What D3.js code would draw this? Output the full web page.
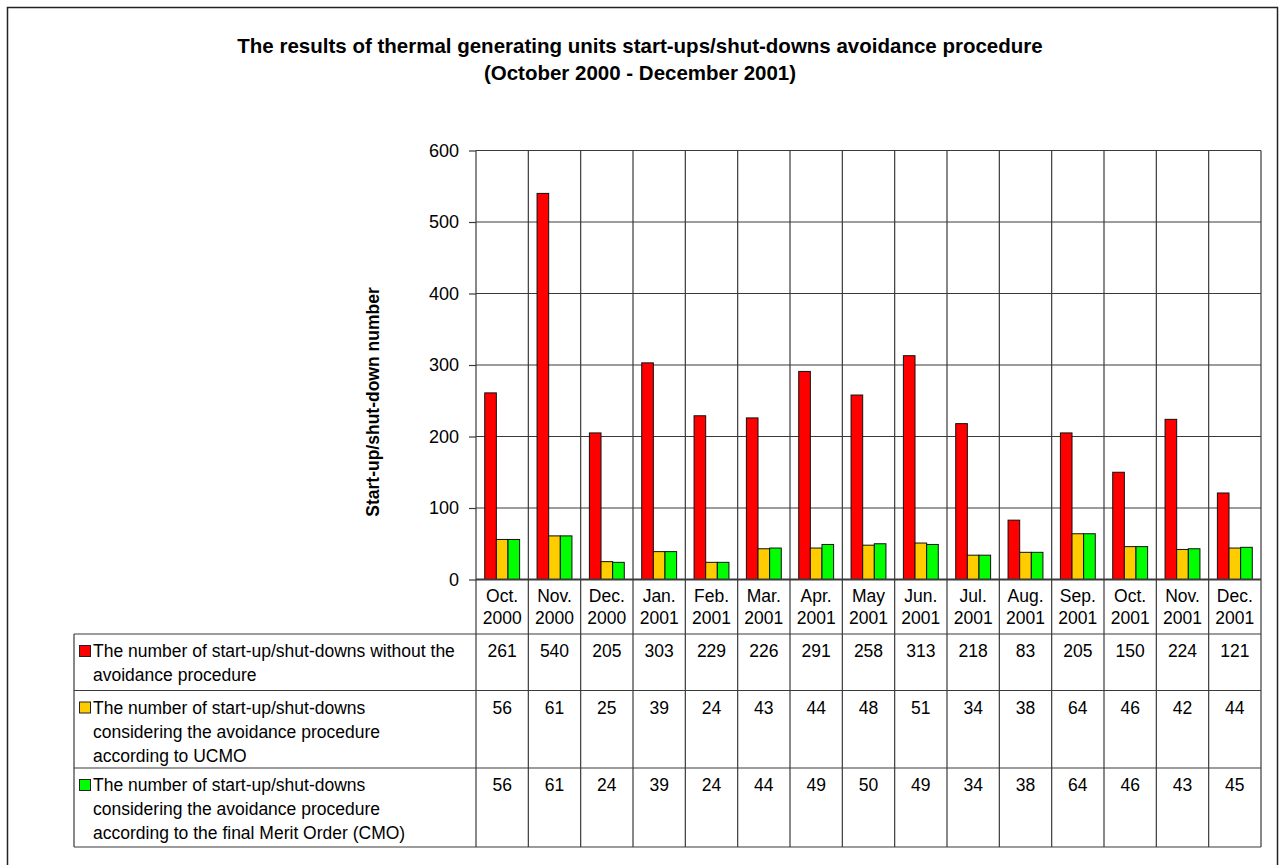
<!DOCTYPE html>
<html>
<head>
<meta charset="utf-8">
<script src="https://cdn.jsdelivr.net/npm/d3@7"></script>
<style>
  html, body { margin: 0; padding: 0; background: #fff; }
  svg { display: block; font-family: Arial, "Liberation Sans", sans-serif; }
</style>
</head>
<body>
<svg id="chart" width="1285" height="865"></svg>
<script>
// Monthly start-up/shut-down counts, October 2000 – December 2001
const months = ["Oct.", "Nov.", "Dec.", "Jan.", "Feb.", "Mar.", "Apr.", "May", "Jun.", "Jul.", "Aug.", "Sep.", "Oct.", "Nov.", "Dec."];
const years  = ["2000", "2000", "2000", "2001", "2001", "2001", "2001", "2001", "2001", "2001", "2001", "2001", "2001", "2001", "2001"];
const withoutProcedure = [261, 540, 205, 303, 229, 226, 291, 258, 313, 218, 83, 205, 150, 224, 121];
const withUCMO         = [56, 61, 25, 39, 24, 43, 44, 48, 51, 34, 38, 64, 46, 42, 44];
const withCMO          = [56, 61, 24, 39, 24, 44, 49, 50, 49, 34, 38, 64, 46, 43, 45];
const yTicks = [0, 100, 200, 300, 400, 500, 600];

const seriesNames = [
  ["The number of start-up/shut-downs without the", "avoidance procedure"],
  ["The number of start-up/shut-downs", "considering the avoidance procedure", "according to UCMO"],
  ["The number of start-up/shut-downs", "considering the avoidance procedure", "according to the final Merit Order (CMO)"]
];
const seriesColors = ["#ff0000", "#ffcc00", "#00ff00"];
const titleLines = [
  "The results of thermal generating units start-ups/shut-downs avoidance procedure",
  "(October 2000 - December 2001)"
];
const yAxisTitle = "Start-up/shut-down number";

const series = [withoutProcedure, withUCMO, withCMO];

const svg = d3.select("#chart");
const lineColor = "#3a3a3a";

// Frame around the whole chart
svg.append("rect")
  .attr("x", 7.5).attr("y", 7.5)
  .attr("width", 1270).attr("height", 880)
  .attr("fill", "none").attr("stroke", "#222").attr("stroke-width", 1.5);

// Title
svg.append("g").selectAll("text")
  .data(titleLines)
  .join("text")
  .attr("x", 640)
  .attr("y", (d, i) => 53 + i * 27)
  .attr("text-anchor", "middle")
  .attr("font-weight", "bold")
  .attr("font-size", 20.5)
  .text(d => d);

// Plot geometry
const plotLeft = 476, plotRight = 1261, plotTop = 150.5, plotBottom = 579.5;
const tableLeft = 74;
const rowLines = [579.5, 634, 690.5, 768, 847];

const x = d3.scaleBand()
  .domain(d3.range(months.length))
  .range([plotLeft, plotRight])
  .paddingInner(0).paddingOuter(0);
const bw = x.bandwidth();
const xInner = d3.scaleBand()
  .domain(d3.range(series.length))
  .range([bw / 6, bw * 5 / 6]);

const y = d3.scaleLinear().domain([0, 600]).range([plotBottom, plotTop]);

// Horizontal gridlines
svg.append("g").selectAll("line")
  .data(yTicks.filter(t => t > 0))
  .join("line")
  .attr("x1", plotLeft).attr("x2", plotRight)
  .attr("y1", d => y(d)).attr("y2", d => y(d))
  .attr("stroke", lineColor).attr("stroke-width", 1.2);

// Left axis with outward ticks
const yAxis = d3.axisLeft(y).tickValues(yTicks).tickSize(7).tickPadding(10).tickFormat(d3.format("d"));
const yg = svg.append("g").attr("transform", `translate(${plotLeft},0)`).call(yAxis);
yg.select(".domain").remove();
yg.selectAll(".tick line").attr("stroke", lineColor).attr("stroke-width", 1.2);
yg.selectAll(".tick text")
  .attr("font-size", 18)
  .attr("font-family", "Arial, 'Liberation Sans', sans-serif")
  .attr("fill", "#000");

// Axis title
svg.append("text")
  .attr("transform", "translate(379,402) rotate(-90)")
  .attr("text-anchor", "middle")
  .attr("font-weight", "bold")
  .attr("font-size", 17.5)
  .text(yAxisTitle);

// Bars
const groups = svg.append("g").selectAll("g")
  .data(months.map((m, i) => i))
  .join("g")
  .attr("transform", i => `translate(${x(i)},0)`);

groups.selectAll("rect")
  .data(i => series.map((s, k) => ({ k, v: s[i] })))
  .join("rect")
  .attr("x", d => xInner(d.k))
  .attr("width", xInner.bandwidth())
  .attr("y", d => y(d.v))
  .attr("height", d => y(0) - y(d.v))
  .attr("fill", d => seriesColors[d.k])
  .attr("stroke", "#111")
  .attr("stroke-width", 1);

// Data table grid: vertical column separators
const colEdges = d3.range(months.length + 1).map(i => i < months.length ? x(i) : plotRight);
svg.append("g").selectAll("line")
  .data(colEdges)
  .join("line")
  .attr("x1", d => d).attr("x2", d => d)
  .attr("y1", plotTop).attr("y2", rowLines[rowLines.length - 1])
  .attr("stroke", lineColor).attr("stroke-width", 1.2);

// Plot top edge
svg.append("line")
  .attr("x1", plotLeft).attr("x2", plotRight)
  .attr("y1", plotTop).attr("y2", plotTop)
  .attr("stroke", lineColor).attr("stroke-width", 1.2);

// Table horizontal lines
svg.append("g").selectAll("line")
  .data(rowLines)
  .join("line")
  .attr("x1", (d, i) => i === 0 ? plotLeft : tableLeft)
  .attr("x2", plotRight)
  .attr("y1", d => d).attr("y2", d => d)
  .attr("stroke", lineColor).attr("stroke-width", (d, i) => i === 0 ? 2 : 1.2);

// Table left edge
svg.append("line")
  .attr("x1", tableLeft).attr("x2", tableLeft)
  .attr("y1", rowLines[1]).attr("y2", rowLines[4])
  .attr("stroke", lineColor).attr("stroke-width", 1.2);

// Category labels in header row
const header = svg.append("g").selectAll("text")
  .data(months.map((m, i) => i))
  .join("text")
  .attr("x", i => x(i) + bw / 2)
  .attr("text-anchor", "middle")
  .attr("font-size", 17.5);
header.append("tspan").attr("y", 602).text(i => months[i]);
header.append("tspan").attr("x", i => x(i) + bw / 2).attr("y", 624).text(i => years[i]);

// Series rows: legend keys, names, values
const lineH = 24;
series.forEach((s, k) => {
  const top = rowLines[k + 1];
  const base = top + 23;
  svg.append("rect")
    .attr("x", 79.5).attr("y", base - 11.5)
    .attr("width", 11).attr("height", 11)
    .attr("fill", seriesColors[k])
    .attr("stroke", "#222").attr("stroke-width", 1);
  const t = svg.append("text").attr("font-size", 17.5);
  seriesNames[k].forEach((ln, j) => {
    t.append("tspan").attr("x", 93).attr("y", base + j * lineH).text(ln);
  });
  svg.append("g").selectAll("text")
    .data(s)
    .join("text")
    .attr("x", (d, i) => x(i) + bw / 2)
    .attr("y", base)
    .attr("text-anchor", "middle")
    .attr("font-size", 17.5)
    .text(d => d);
});
</script>
</body>
</html>
